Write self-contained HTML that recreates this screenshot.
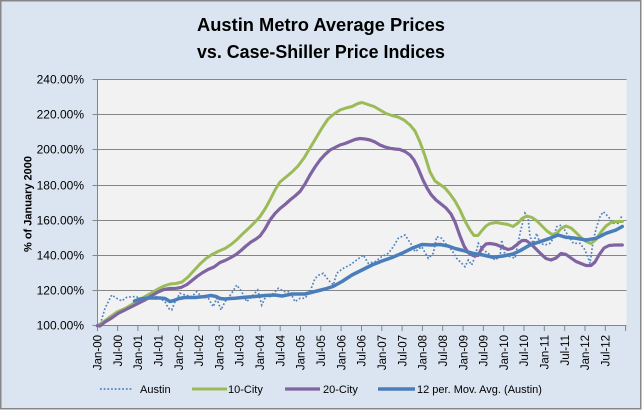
<!DOCTYPE html>
<html><head><meta charset="utf-8"><style>
html,body{margin:0;padding:0;background:#fff;}
svg{display:block;}
text{font-family:"Liberation Sans",Arial,sans-serif;fill:#000;}
</style></head><body>
<svg width="643" height="411" viewBox="0 0 643 411" xmlns="http://www.w3.org/2000/svg">
<rect x="0.75" y="0.75" width="640" height="408" fill="#dbe5f1" stroke="#878787" stroke-width="1.5"/>
<text x="321" y="31" font-size="18" font-weight="bold" text-anchor="middle" textLength="248" lengthAdjust="spacingAndGlyphs">Austin Metro Average Prices</text>
<text x="321" y="58" font-size="18" font-weight="bold" text-anchor="middle" textLength="248" lengthAdjust="spacingAndGlyphs">vs. Case-Shiller Price Indices</text>
<rect x="97.5" y="79.5" width="529" height="246" fill="#f2f2f2"/>
<g stroke="#868686" stroke-width="1" fill="none">
<path d="M92.5 79.5H626.5M92.5 114.5H626.5M92.5 149.5H626.5M92.5 185.5H626.5M92.5 220.5H626.5M92.5 255.5H626.5M92.5 290.5H626.5M92.5 325.5H626.5"/>
<path d="M97.5 79.5V325.5"/>
<path d="M97.5 325.5V331M117.6 325.5V331M137.9 325.5V331M158.3 325.5V331M178.6 325.5V331M198.9 325.5V331M219.2 325.5V331M239.5 325.5V331M259.9 325.5V331M280.2 325.5V331M300.5 325.5V331M320.8 325.5V331M341.1 325.5V331M361.5 325.5V331M381.8 325.5V331M402.1 325.5V331M422.4 325.5V331M442.7 325.5V331M463.1 325.5V331M483.4 325.5V331M503.7 325.5V331M524 325.5V331M544.3 325.5V331M564.7 325.5V331M585 325.5V331M605.3 325.5V331M625.6 325.5V331"/>
</g>
<g font-size="12" text-anchor="end">
<text x="84" y="83.5">240.00%</text>
<text x="84" y="118.5">220.00%</text>
<text x="84" y="153.5">200.00%</text>
<text x="84" y="189.5">180.00%</text>
<text x="84" y="224.5">160.00%</text>
<text x="84" y="259.5">140.00%</text>
<text x="84" y="294.5">120.00%</text>
<text x="84" y="329.5">100.00%</text>
</g>
<text transform="translate(31.5,204) rotate(-90)" font-size="11" font-weight="bold" text-anchor="middle">% of January 2000</text>
<g font-size="11.5" text-anchor="end">
<text transform="translate(101.5,335) rotate(-90)">Jan-00</text>
<text transform="translate(121.8,335) rotate(-90)">Jul-00</text>
<text transform="translate(142.1,335) rotate(-90)">Jan-01</text>
<text transform="translate(162.5,335) rotate(-90)">Jul-01</text>
<text transform="translate(182.8,335) rotate(-90)">Jan-02</text>
<text transform="translate(203.1,335) rotate(-90)">Jul-02</text>
<text transform="translate(223.4,335) rotate(-90)">Jan-03</text>
<text transform="translate(243.7,335) rotate(-90)">Jul-03</text>
<text transform="translate(264.1,335) rotate(-90)">Jan-04</text>
<text transform="translate(284.4,335) rotate(-90)">Jul-04</text>
<text transform="translate(304.7,335) rotate(-90)">Jan-05</text>
<text transform="translate(325,335) rotate(-90)">Jul-05</text>
<text transform="translate(345.3,335) rotate(-90)">Jan-06</text>
<text transform="translate(365.7,335) rotate(-90)">Jul-06</text>
<text transform="translate(386,335) rotate(-90)">Jan-07</text>
<text transform="translate(406.3,335) rotate(-90)">Jul-07</text>
<text transform="translate(426.6,335) rotate(-90)">Jan-08</text>
<text transform="translate(446.9,335) rotate(-90)">Jul-08</text>
<text transform="translate(467.3,335) rotate(-90)">Jan-09</text>
<text transform="translate(487.6,335) rotate(-90)">Jul-09</text>
<text transform="translate(507.9,335) rotate(-90)">Jan-10</text>
<text transform="translate(528.2,335) rotate(-90)">Jul-10</text>
<text transform="translate(548.5,335) rotate(-90)">Jan-11</text>
<text transform="translate(568.9,335) rotate(-90)">Jul-11</text>
<text transform="translate(589.2,335) rotate(-90)">Jan-12</text>
<text transform="translate(609.5,335) rotate(-90)">Jul-12</text>
</g>
<!-- Austin dotted -->
<polyline fill="none" stroke="#4f81bd" stroke-width="1.7" stroke-dasharray="1.7 2" points="97.3,325.7 100,325 105,308.3 111.7,295 116.7,298.3 121.7,301 126.7,297.3 131.7,296.7 136.7,296.7 141.7,301.7 146.7,298 151.7,296.7 156.7,296.7 161,299 165,301.7 168.3,308.3 171.7,310 175,301.7 180,293.3 185,295 191.7,296.7 196.7,291.7 201.7,296.7 208.3,298.3 213.3,306.7 216.7,298.3 221,310 225,301.7 231.7,293.3 236.7,285 241.7,291.7 246.7,301.7 251.7,296.7 257.7,290 261.7,305 266,296 270,296.7 278.3,288.3 285,291.7 290,291.7 295,301.7 300,298.3 305,298.3 310,291.7 315,278.3 319,275 323.3,273.3 328.3,280 333.3,285 336.7,273.3 343.3,268.3 350,265 356.7,260 363.3,255 368.3,263.3 375,261.7 381.7,256.7 388.3,253.3 393.3,246.7 398.3,238.3 405,235 411.7,245 415,251.7 421.7,246.7 428.3,258.3 433.3,253.3 436.7,236.7 441.7,238.3 446.7,245 451.7,250 456.7,258.3 461.7,263.3 465,266.7 468.3,260 471.7,265 475,256.7 478.3,243.3 483.3,250 488.3,253.3 495,260 500,256.7 501.7,240 505,255 510,256.7 515,258.3 520,233.3 525,213.3 528.3,220 530,236.7 533.3,243.3 536.7,233.3 540,243.3 545,245 550,243.3 553.3,238.3 556.7,226.7 561.7,225 566.7,233.3 573.3,243.3 580,243.3 585,250 588.3,258.3 590,263.3 593.3,240 596.7,226.7 600,216.7 603.3,211.7 608.3,216.7 613.3,223.3 618.3,223.3 622.3,215"/>
<!-- 10-City -->
<polyline fill="none" stroke="#9bbb59" stroke-width="3" stroke-linejoin="round" stroke-linecap="round" points="97.3,325.7 104,321.5 110,317 117,312 125,308.5 131,305 138,300.5 145,296.5 152,292.5 158,289 164,286 170,284 176,283.5 182,282 188,277 194,270.5 200,264 206,258.5 212,254.5 219,251 225,248.5 231,244.5 237,239.5 243,233.5 249,228 255,222 260,216.5 265,209 270,200 275,190 280,182 286,177 292,172 298,166 304,158 310,148 316,138 322,128 328,119 334,114 340,110 346,108 352,106.5 358,103.5 362,102.5 368,104.5 374,106.5 380,110 386,113.5 392,115.5 398,117 404,120 410,125 415,131 420,142 425,156 430,172 435,181 440,184.5 445,188 450,194 455,201 460,210 465,221 470,230 474,235.5 478,235.5 482,230.5 486,226 490,223.5 496,222.5 502,223.5 508,224.5 513,226.5 518,223 522,218.5 527,216 532,217.5 537,221 542,226 547,231 552,234.5 557,233 561,228.5 566,226 571,228 576,232.5 581,237.5 586,241.5 591,243.5 596,239.5 601,232 606,226 611,222.5 616,221.5 622.3,221.5"/>
<!-- 20-City -->
<polyline fill="none" stroke="#8064a2" stroke-width="3.2" stroke-linejoin="round" stroke-linecap="round" points="97.3,325.7 100,326 105,322 111.7,318 118,313.5 124,310.5 130,307.5 138,303.5 145,300 152,295.5 158,292 164,289.5 170,288.5 176,288.3 181,287.5 187,284.5 192,280.5 197,276.5 202,273 208,269.5 214,267 220,262.5 225,260.5 230,258 236,254.5 241,250.5 246,246 251,242 256,239 260,236 265,229 270,220 275,213.5 280,208.5 285,204.5 290,200 295,196 300,191.5 305,184 310,175 315,167 320,160 325,154.5 330,150 335,147.5 340,145 345,143.5 350,141.5 355,139.5 360,138.5 365,139 370,140 375,142 380,145 385,147 390,148.3 395,149 400,149.5 405,151.5 410,155 414,160 418,168 423,180 427,188 431,194.5 436,200 441,204 446,208 451,214 455,222 460,236 464,246 468,252.5 473,255.5 478,255.5 482,248 486,244 490,243.5 496,244.5 502,247 508,249.5 512,248.5 517,244.5 522,240.5 526,240.5 531,244 536,249 541,254 546,258.5 551,260 556,258 561,253.5 566,254.5 571,258 576,261.5 581,263.5 586,265.5 591,265.5 595,262 599,255 604,248 609,245.5 615,245 622.3,245"/>
<!-- 12 per MA -->
<polyline fill="none" stroke="#4a7ebb" stroke-width="3.5" stroke-linejoin="round" stroke-linecap="round" points="134.5,301 140,299 145,298.3 150,298 155,298 160,298 165,298.5 170,301.5 174,300.5 179,298.5 185,297.5 195,297.5 205,296.5 211,295.5 216,296.5 220,298.5 225,299 230,298.5 235,298.3 245,297.3 255,296.5 265,295.5 275,295 282,296 292,294 305,294 315,291.5 325,289 333,286.5 342,281.5 352,275 362,270 372,265 382,261 392,257.5 402,253.3 412,248.3 422,244.5 432,245 440,244.5 448,246 455,248.5 463,250.5 473,253.3 483,255 493,257.3 503,256 513,254 520,250.7 530,245 540,241.7 550,238.3 558,235 566,237.3 576,238.3 586,240 596,238.3 606,233.3 616,230 622.3,226.5"/>
<!-- Legend -->
<g font-size="11">
<line x1="100" y1="389" x2="132" y2="389" stroke="#4f81bd" stroke-width="1.7" stroke-dasharray="1.7 2"/>
<text x="140" y="393">Austin</text>
<line x1="192" y1="389" x2="227" y2="389" stroke="#9bbb59" stroke-width="3"/>
<text x="228" y="393">10-City</text>
<line x1="285" y1="389" x2="320" y2="389" stroke="#8064a2" stroke-width="3.2"/>
<text x="323" y="393">20-City</text>
<line x1="378" y1="389" x2="415" y2="389" stroke="#4a7ebb" stroke-width="3.5"/>
<text x="417" y="393">12 per. Mov. Avg. (Austin)</text>
</g>
</svg>
</body></html>
